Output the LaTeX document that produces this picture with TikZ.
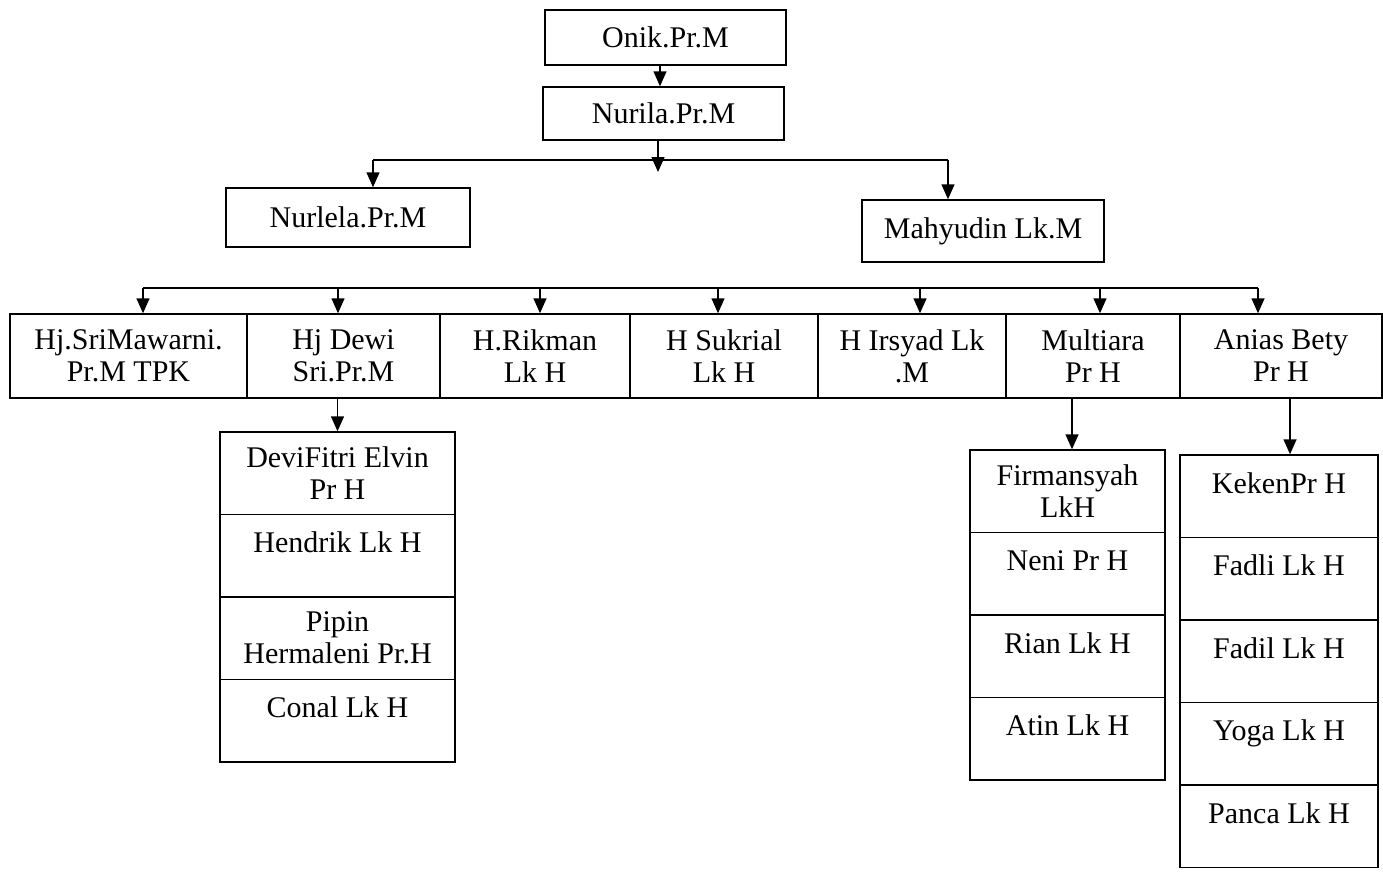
\documentclass[tikz,border=0pt]{standalone}
\usepackage{fontspec}
\setmainfont{Liberation Serif}
\usetikzlibrary{arrows.meta}
\begin{document}
\begin{tikzpicture}[x=1pt,y=-1pt,
  every node/.style={font=\fontsize{30}{32}\selectfont},
  box/.style={draw, line width=1.5pt, inner sep=0pt, align=center},
  rowcell/.style={box, minimum height=84pt},
  twocell/.style={box, minimum height=82.5pt},
  onecell/.style={box, text height=38pt, text depth=44.5pt},
  conn/.style={line width=1.5pt},
  arr/.style={line width=1.5pt, -{Triangle[width=13pt,length=15pt]}}]
\useasboundingbox (0,0) rectangle (1383,871);

% top generations
\node[box, minimum width=241pt, minimum height=55pt] (onik) at (665.5,37.5) {Onik.Pr.M};
\node[box, minimum width=241pt, minimum height=53pt] (nurila) at (663.5,113.5) {Nurila.Pr.M};
\node[box, minimum width=244pt, minimum height=59pt] (nurlela) at (348,217.5) {Nurlela.Pr.M};
\node[box, minimum width=242pt, minimum height=62pt] (mahyudin) at (983,231) {Mahyudin Lk.M};

\draw[arr] (onik.south -| 660,0) -- (nurila.north -| 660,0);
\coordinate (nbot) at (658,172);
\draw[arr] (nurila.south -| nbot) -- (nbot);
\coordinate (jL) at (373,160);
\coordinate (jR) at (948,160);
\draw[conn] (jL) -- (jR);
\draw[arr] (jL) -- (jL |- nurlela.north);
\draw[arr] (jR) -- (jR |- mahyudin.north);

% children row
\node[rowcell, minimum width=237pt] (r1) at (128.5,356) {Hj.SriMawarni.\\Pr.M TPK};
\node[rowcell, minimum width=193pt] (r2) at (343.5,356) {Hj Dewi\\Sri.Pr.M};
\node[rowcell, minimum width=190pt] (r3) at (535,356) {H.Rikman\\Lk H};
\node[rowcell, minimum width=188pt] (r4) at (724,356) {H Sukrial\\Lk H};
\node[rowcell, minimum width=188pt] (r5) at (912,356) {H Irsyad Lk\\.M};
\node[rowcell, minimum width=174pt] (r6) at (1093,356) {Multiara\\Pr H};
\node[rowcell, minimum width=202pt] (r7) at (1281,356) {Anias Bety\\Pr H};

\coordinate (b1) at (143,288);
\coordinate (b2) at (338,288);
\coordinate (b3) at (540,288);
\coordinate (b4) at (718,288);
\coordinate (b5) at (920,288);
\coordinate (b6) at (1100,288);
\coordinate (b7) at (1258,288);
\draw[conn] (b1) -- (b7);
\draw[arr] (b1) -- (b1 |- r1.north);
\draw[arr] (b2) -- (b2 |- r2.north);
\draw[arr] (b3) -- (b3 |- r3.north);
\draw[arr] (b4) -- (b4 |- r4.north);
\draw[arr] (b5) -- (b5 |- r5.north);
\draw[arr] (b6) -- (b6 |- r6.north);
\draw[arr] (b7) -- (b7 |- r7.north);

% Hj Dewi's children
\node[twocell, minimum width=235pt] (d1) at (337.5,473.25) {DeviFitri Elvin\\Pr H};
\node[onecell, minimum width=235pt] (d2) at (337.5,555.75) {Hendrik Lk H};
\node[twocell, minimum width=235pt] (d3) at (337.5,638.25) {Pipin\\Hermaleni Pr.H};
\node[onecell, minimum width=235pt] (d4) at (337.5,720.75) {Conal Lk H};
\draw[arr] (r2.south -| d1.north) -- (d1.north);

% Multiara's children
\node[twocell, minimum width=195pt] (m1) at (1067.5,491.25) {Firmansyah\\LkH};
\node[onecell, minimum width=195pt] (m2) at (1067.5,573.75) {Neni Pr H};
\node[onecell, minimum width=195pt] (m3) at (1067.5,656.25) {Rian Lk H};
\node[onecell, minimum width=195pt] (m4) at (1067.5,738.75) {Atin Lk H};
\coordinate (mx) at (1072,0);
\draw[arr] (r6.south -| mx) -- (m1.north -| mx);

% Anias Bety's children
\node[onecell, minimum width=198pt] (a1) at (1279,496.25) {KekenPr H};
\node[onecell, minimum width=198pt] (a2) at (1279,578.75) {Fadli Lk H};
\node[onecell, minimum width=198pt] (a3) at (1279,661.25) {Fadil Lk H};
\node[onecell, minimum width=198pt] (a4) at (1279,743.75) {Yoga Lk H};
\node[onecell, minimum width=198pt] (a5) at (1279,826.25) {Panca Lk H};
\coordinate (ax) at (1290,0);
\draw[arr] (r7.south -| ax) -- (a1.north -| ax);
\end{tikzpicture}
\end{document}
